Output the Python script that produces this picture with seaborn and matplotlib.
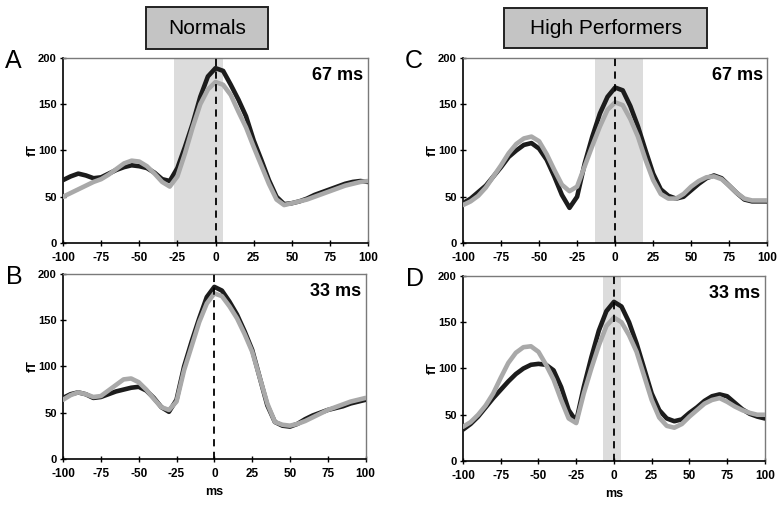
import matplotlib
matplotlib.use("Agg")
import matplotlib.pyplot as plt
import matplotlib.patches as patches
import numpy as np
import pandas as pd
import seaborn as sns

# === data ===
ms = list(range(-100, 101, 5))

a_dark = [68, 72, 75, 73, 70, 71, 75, 79, 82, 84, 83, 81, 76, 69, 67, 81, 104, 129, 158, 180, 189,
          186, 171, 155, 137, 111, 90, 68, 50, 42, 43, 45, 48, 52, 55, 58, 61, 64, 66, 67, 66]
a_light = [50, 54, 58, 62, 66, 69, 74, 80, 86, 89, 88, 83, 75, 66, 61, 72, 97, 125, 150, 166, 174,
           171, 160, 142, 125, 104, 84, 64, 47, 41, 43, 45, 47, 50, 53, 56, 59, 62, 64, 66, 67]
b_dark = [66, 70, 72, 70, 66, 67, 70, 73, 75, 77, 78, 74, 66, 56, 51, 64, 100, 127, 152, 175, 186,
          182, 170, 156, 138, 118, 88, 58, 40, 36, 35, 38, 43, 47, 50, 53, 55, 57, 60, 62, 64]
b_light = [64, 69, 72, 70, 67, 68, 74, 80, 86, 87, 83, 75, 65, 56, 53, 62, 96, 122, 148, 168, 179,
           176, 165, 152, 135, 116, 88, 60, 40, 37, 36, 38, 41, 45, 49, 53, 56, 59, 62, 64, 66]
c_dark = [43, 48, 55, 62, 72, 82, 93, 100, 106, 108, 102, 90, 72, 52, 38, 50, 86, 115, 140, 158, 168,
          165, 148, 126, 100, 75, 58, 51, 48, 50, 57, 64, 70, 73, 70, 62, 54, 47, 45, 45, 45]
c_light = [41, 45, 51, 60, 72, 84, 97, 107, 113, 115, 110, 96, 79, 63, 56, 61, 83, 105, 126, 144, 152,
           149, 134, 115, 90, 68, 53, 48, 48, 53, 61, 67, 71, 72, 69, 62, 54, 48, 46, 46, 46]
d_dark = [34, 40, 48, 58, 68, 77, 86, 94, 100, 104, 105, 104, 98, 80, 55, 43, 80, 112, 141, 162, 172,
          167, 150, 127, 100, 73, 55, 46, 43, 45, 52, 58, 65, 70, 72, 70, 63, 56, 51, 48, 46]
d_light = [37, 42, 50, 60, 73, 90, 106, 117, 123, 124, 118, 104, 88, 66, 46, 41, 73, 100, 125, 146, 155,
           150, 136, 118, 92, 66, 47, 38, 36, 40, 48, 55, 62, 66, 68, 64, 59, 55, 52, 50, 50]

panel_letters = ["A", "B", "C", "D"]
durations = ["67 ms", "33 ms", "67 ms", "33 ms"]
spans = [(-27, 5), None, (-13, 18), (-7, 5)]
group_titles = ["Normals", "High Performers"]
x_ticks = [-100, -75, -50, -25, 0, 25, 50, 75, 100]
y_ticks = [0, 50, 100, 150, 200]

# === style ===
sns.set_style("white")
plt.rcParams['font.family'] = ['Liberation Sans', 'DejaVu Sans']
plt.rcParams['axes.unicode_minus'] = False
plt.rcParams['text.color'] = 'black'
plt.rcParams['axes.labelcolor'] = 'black'
plt.rcParams['xtick.color'] = 'black'
plt.rcParams['ytick.color'] = 'black'

fig = plt.figure(figsize=(7.84, 5.07), dpi=100)

# axes rectangles [left, bottom, width, height] in figure fraction
rects = [
    [0.0804, 0.5207, 0.389, 0.365],
    [0.0804, 0.0947, 0.386, 0.365],
    [0.5906, 0.5207, 0.388, 0.365],
    [0.5906, 0.0907, 0.385, 0.365],
]
series = [(a_dark, a_light), (b_dark, b_light), (c_dark, c_light), (d_dark, d_light)]

for i, (rect, (dark, light)) in enumerate(zip(rects, series)):
    ax = fig.add_axes(rect)
    df = pd.DataFrame({
        'ms': ms * 2,
        'fT': dark + light,
        'group': ['dark'] * len(ms) + ['light'] * len(ms),
    })
    if spans[i] is not None:
        ax.axvspan(spans[i][0], spans[i][1], color='#dcdcdc', lw=0, zorder=0)
    sns.lineplot(data=df, x='ms', y='fT', hue='group', hue_order=['dark', 'light'],
                 palette={'dark': '#1c1c1c', 'light': '#a9a9a9'}, linewidth=3.3,
                 legend=False, ax=ax, zorder=3)
    for ln in ax.get_lines():
        ln.set_solid_joinstyle('round')
        ln.set_solid_capstyle('round')
    ax.axvline(0, color='black', linestyle=(0, (4, 3)), linewidth=1.3, zorder=4)

    ax.set_xlim(-100, 100)
    ax.set_ylim(0, 200)
    ax.set_xticks(x_ticks)
    ax.set_yticks(y_ticks)
    ax.tick_params(axis='x', direction='inout', length=5, width=1, labelsize=8.5, pad=4,
                   bottom=True)
    ax.tick_params(axis='y', direction='inout', length=5, width=1, labelsize=8, pad=2,
                   left=True)
    for lab in ax.get_xticklabels() + ax.get_yticklabels():
        lab.set_fontweight('bold')

    for side in ['top', 'right']:
        ax.spines[side].set_color('#7a7a7a')
        ax.spines[side].set_linewidth(1)
    for side in ['left', 'bottom']:
        ax.spines[side].set_color('black')
        ax.spines[side].set_linewidth(1.2)

    ax.set_ylabel('fT', fontsize=9, fontweight='bold', labelpad=0)
    ax.yaxis.set_label_coords(-0.08, 0.5)
    if i in (1, 3):
        ax.set_xlabel('ms', fontsize=9, fontweight='bold', labelpad=4)
    else:
        ax.set_xlabel('')

    ax.text(0.985, 0.95, durations[i], transform=ax.transAxes, ha='right', va='top',
            fontsize=13, fontweight='bold')
    ax.text(-0.19, 1.05, panel_letters[i], transform=ax.transAxes, ha='left', va='top',
            fontsize=18)

# group title boxes
boxes = [(146, 7, 122, 42), (504, 8, 203, 40)]
W, H = 784, 507
for title, (bx, by, bw, bh) in zip(group_titles, boxes):
    fig.patches.append(patches.Rectangle((bx / W, 1 - (by + bh) / H), bw / W, bh / H,
                                         transform=fig.transFigure, facecolor='#c4c4c4',
                                         edgecolor='#222222', linewidth=1.4))
    fig.text((bx + bw / 2) / W, 1 - (by + bh / 2) / H, title, ha='center', va='center',
             fontsize=15)

fig.savefig('out.png', dpi=100)
plt.close(fig)
